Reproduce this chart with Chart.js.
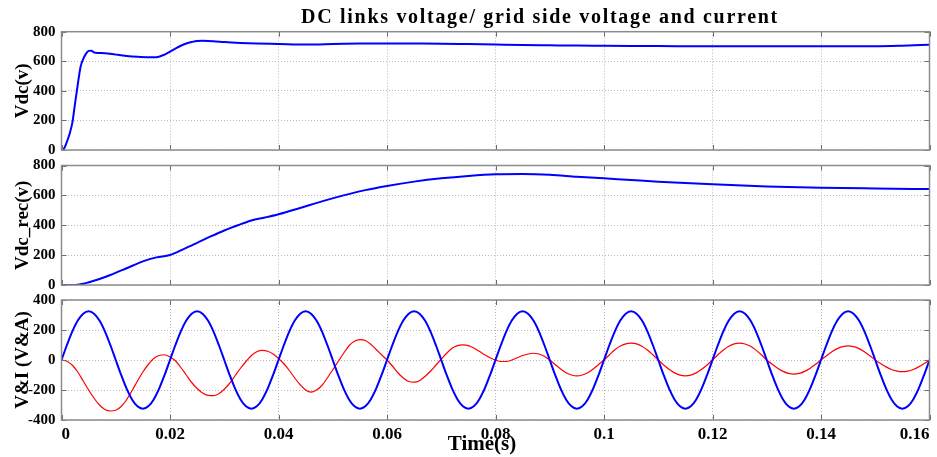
<!DOCTYPE html>
<html>
<head>
<meta charset="utf-8">
<script src="https://cdn.jsdelivr.net/npm/chart.js@4.4.0/dist/chart.umd.min.js"></script>
<style>
  body { margin: 0; background: #fff; }
  #wrap { position: relative; width: 937px; height: 457px; overflow: hidden; font-family: "Liberation Serif", "Times New Roman", serif; }
  #wrap canvas { position: absolute; left: 0; }
  .label { position: absolute; font-weight: bold; white-space: nowrap; line-height: 20px; transform: translateX(-50%); color: #000; }
</style>
</head>
<body>
<div id="wrap">
  <canvas id="vdcChart" width="937" height="165" style="top:0px"></canvas>
  <canvas id="recChart" width="937" height="150" style="top:150px"></canvas>
  <canvas id="gridChart" width="937" height="172" style="top:285px"></canvas>
  <div class="label" style="left:540px; top:6px; font-size:20px; letter-spacing:1.7px;">DC links voltage/ grid side voltage and current</div>
  <div class="label" style="left:482px; top:433px; font-size:21px;">Time(s)</div>
</div>
<script>
/****************
--- DATA ---
*****************/

// top panel: DC link voltage
const vdcTime = [0, 0.0005, 0.001, 0.0015, 0.002, 0.0025, 0.003, 0.0035, 0.004, 0.0045, 0.005, 0.0055, 0.006,
  0.008, 0.010, 0.012, 0.014, 0.016, 0.0175, 0.019, 0.020, 0.021, 0.022, 0.023, 0.024, 0.025, 0.026, 0.028,
  0.030, 0.033, 0.036, 0.040, 0.045, 0.050, 0.055, 0.060, 0.065, 0.070, 0.075, 0.080, 0.085, 0.090, 0.095,
  0.100, 0.110, 0.120, 0.130, 0.140, 0.150, 0.155, 0.160];
const vdcValues = [0, 12, 56, 110, 185, 315, 443, 560, 615, 650, 670, 672, 660,
  655, 645, 636, 630, 627, 628, 645, 665, 685, 705, 720, 730, 737, 738, 736,
  730, 724, 720, 717, 713, 716, 720, 721, 720, 719, 716, 713, 710, 708, 706,
  705, 703, 701, 701, 701, 701, 705, 712];

// middle panel: rectifier DC voltage
const recTime = [0, 0.002, 0.003, 0.004, 0.005, 0.007, 0.009, 0.012, 0.015, 0.0175, 0.02, 0.0225, 0.025,
  0.0275, 0.03, 0.0325, 0.035, 0.0375, 0.04, 0.044, 0.048, 0.052, 0.056, 0.06, 0.065, 0.07, 0.075, 0.08,
  0.085, 0.09, 0.095, 0.10, 0.105, 0.11, 0.12, 0.13, 0.14, 0.15, 0.16];
const recValues = [0, 0, 2, 8, 18, 40, 67, 112, 158, 185, 201, 240, 282,
  325, 365, 400, 432, 452, 474, 516, 560, 600, 635, 663, 692, 714, 730, 741,
  743, 738, 725, 714, 703, 692, 674, 660, 651, 646, 642];

// bottom panel: grid voltage and current, 1 ms samples
const gridTime = [
  0, 0.001, 0.002, 0.003, 0.004, 0.005, 0.006, 0.007, 0.008, 0.009, 0.010, 0.011, 0.012, 0.013, 0.014, 0.015, 0.016, 0.017, 0.018, 0.019,
  0.020, 0.021, 0.022, 0.023, 0.024, 0.025, 0.026, 0.027, 0.028, 0.029, 0.030, 0.031, 0.032, 0.033, 0.034, 0.035, 0.036, 0.037, 0.038, 0.039,
  0.040, 0.041, 0.042, 0.043, 0.044, 0.045, 0.046, 0.047, 0.048, 0.049, 0.050, 0.051, 0.052, 0.053, 0.054, 0.055, 0.056, 0.057, 0.058, 0.059,
  0.060, 0.061, 0.062, 0.063, 0.064, 0.065, 0.066, 0.067, 0.068, 0.069, 0.070, 0.071, 0.072, 0.073, 0.074, 0.075, 0.076, 0.077, 0.078, 0.079,
  0.080, 0.081, 0.082, 0.083, 0.084, 0.085, 0.086, 0.087, 0.088, 0.089, 0.090, 0.091, 0.092, 0.093, 0.094, 0.095, 0.096, 0.097, 0.098, 0.099,
  0.100, 0.101, 0.102, 0.103, 0.104, 0.105, 0.106, 0.107, 0.108, 0.109, 0.110, 0.111, 0.112, 0.113, 0.114, 0.115, 0.116, 0.117, 0.118, 0.119,
  0.120, 0.121, 0.122, 0.123, 0.124, 0.125, 0.126, 0.127, 0.128, 0.129, 0.130, 0.131, 0.132, 0.133, 0.134, 0.135, 0.136, 0.137, 0.138, 0.139,
  0.140, 0.141, 0.142, 0.143, 0.144, 0.145, 0.146, 0.147, 0.148, 0.149, 0.150, 0.151, 0.152, 0.153, 0.154, 0.155, 0.156, 0.157, 0.158, 0.159,
  0.160];
const gridVoltage = [
  0, 100, 191, 263, 309, 325, 309, 263, 191, 100, 0, -100, -191, -263, -309, -325, -309, -263, -191, -100,
  0, 100, 191, 263, 309, 325, 309, 263, 191, 100, 0, -100, -191, -263, -309, -325, -309, -263, -191, -100,
  0, 100, 191, 263, 309, 325, 309, 263, 191, 100, 0, -100, -191, -263, -309, -325, -309, -263, -191, -100,
  0, 100, 191, 263, 309, 325, 309, 263, 191, 100, 0, -100, -191, -263, -309, -325, -309, -263, -191, -100,
  0, 100, 191, 263, 309, 325, 309, 263, 191, 100, 0, -100, -191, -263, -309, -325, -309, -263, -191, -100,
  0, 100, 191, 263, 309, 325, 309, 263, 191, 100, 0, -100, -191, -263, -309, -325, -309, -263, -191, -100,
  0, 100, 191, 263, 309, 325, 309, 263, 191, 100, 0, -100, -191, -263, -309, -325, -309, -263, -191, -100,
  0, 100, 191, 263, 309, 325, 309, 263, 191, 100, 0, -100, -191, -263, -309, -325, -309, -263, -191, -100,
  0];
const gridCurrent = [
  0, -8, -35, -80, -140, -200, -255, -300, -330, -340, -335, -310, -265, -205, -140, -80, -30, 10, 30, 35,
  20, -5, -50, -100, -150, -190, -220, -236, -238, -225, -195, -155, -105, -55, -10, 30, 55, 64, 58, 40,
  10, -25, -70, -120, -165, -200, -214, -200, -170, -120, -65, -10, 45, 95, 125, 136, 130, 105, 70, 35,
  0, -40, -85, -120, -143, -148, -138, -110, -75, -35, 5, 45, 78, 96, 101, 96, 80, 58, 35, 15,
  0, -10, -10, 0, 15, 30, 40, 45, 40, 25, 0, -30, -60, -85, -100, -106, -100, -85, -60, -30,
  0, 35, 68, 93, 108, 113, 108, 92, 67, 35, 0, -33, -62, -86, -101, -106, -101, -86, -62, -33,
  0, 35, 67, 92, 108, 113, 107, 91, 66, 35, 0, -29, -55, -76, -89, -94, -89, -76, -55, -29,
  0, 29, 55, 76, 89, 94, 89, 76, 55, 29, 0, -24, -46, -63, -74, -78, -74, -63, -46, -24,
  0];

/*******************
  --- HELPERS ---
********************/

const serif = '"Liberation Serif", "Times New Roman", serif';
const toPoints = (xs, ys) => xs.map((x, i) => ({ x: x, y: ys[i] }));

// matlab style box with inward tick marks
const frameTicks = {
  id: "frameTicks",
  afterDraw(chart) {
    const { ctx, chartArea: a, scales } = chart;
    ctx.save();
    ctx.lineWidth = 1;
    ctx.strokeStyle = "#6a6a6a";
    ctx.beginPath();
    scales.x.ticks.forEach((t) => {
      const px = Math.round(scales.x.getPixelForValue(t.value)) + 0.5;
      ctx.moveTo(px, a.top); ctx.lineTo(px, a.top + 5);
      ctx.moveTo(px, a.bottom); ctx.lineTo(px, a.bottom - 5);
    });
    scales.y.ticks.forEach((t) => {
      const py = Math.round(scales.y.getPixelForValue(t.value)) + 0.5;
      ctx.moveTo(a.left, py); ctx.lineTo(a.left + 5, py);
      ctx.moveTo(a.right, py); ctx.lineTo(a.right - 5, py);
    });
    ctx.stroke();
    ctx.strokeStyle = "#8c8c8c";
    ctx.lineWidth = 1.5;
    ctx.strokeRect(a.left, a.top, a.width, a.height);
    ctx.restore();
  },
};

const makePanel = (id, datasets, yMin, yMax, yTitle, padTop, padBottom, showX) =>
  new Chart(document.getElementById(id).getContext("2d"), {
    type: "line",
    data: { datasets: datasets },
    options: {
      responsive: false,
      animation: false,
      devicePixelRatio: 1,
      events: [],
      layout: { autoPadding: false, padding: { left: 0, right: 7.5, top: padTop, bottom: padBottom } },
      plugins: { legend: { display: false }, tooltip: { enabled: false } },
      elements: { point: { radius: 0 } },
      scales: {
        x: {
          type: "linear",
          min: 0,
          max: 0.16,
          border: { display: false, dash: [1, 2] },
          grid: { color: "#b8b8b8", drawTicks: false, lineWidth: 1 },
          ticks: {
            display: showX,
            stepSize: 0.02,
            align: "inner",
            padding: 4,
            color: "#000",
            font: { family: serif, size: 17, weight: "bold" },
            callback: (v) => Number(v.toFixed(2)).toString(),
          },
          afterFit: (scale) => { scale.height = showX ? 37 : 0; },
        },
        y: {
          min: yMin,
          max: yMax,
          border: { display: false, dash: [1, 2] },
          grid: { color: "#b8b8b8", drawTicks: false, lineWidth: 1 },
          ticks: {
            stepSize: 200,
            padding: 6,
            color: "#000",
            font: { family: serif, size: 15, weight: "bold" },
          },
          title: {
            display: true,
            text: yTitle,
            color: "#000",
            padding: { top: 12, bottom: 0 },
            font: { family: serif, size: 19, weight: "bold" },
          },
          afterFit: (scale) => { scale.width = 61.5; },
        },
      },
    },
    plugins: [frameTicks],
  });

/*******************
  --- CHARTS ---
********************/

makePanel("vdcChart", [
  { data: toPoints(vdcTime, vdcValues), borderColor: "#0000ff", borderWidth: 2, cubicInterpolationMode: "monotone" },
], 0, 800, "Vdc(v)", 31.7, 15, false);

makePanel("recChart", [
  { data: toPoints(recTime, recValues), borderColor: "#0000ff", borderWidth: 2, cubicInterpolationMode: "monotone" },
], 0, 800, "Vdc_rec(v)", 15.5, 15, false);

makePanel("gridChart", [
  { data: toPoints(gridTime, gridVoltage), borderColor: "#0000ff", borderWidth: 2, cubicInterpolationMode: "monotone" },
  { data: toPoints(gridTime, gridCurrent), borderColor: "#ff0000", borderWidth: 1.2, cubicInterpolationMode: "monotone" },
], -400, 400, "V&I (V&A)", 15, 0, true);
</script>
</body>
</html>
